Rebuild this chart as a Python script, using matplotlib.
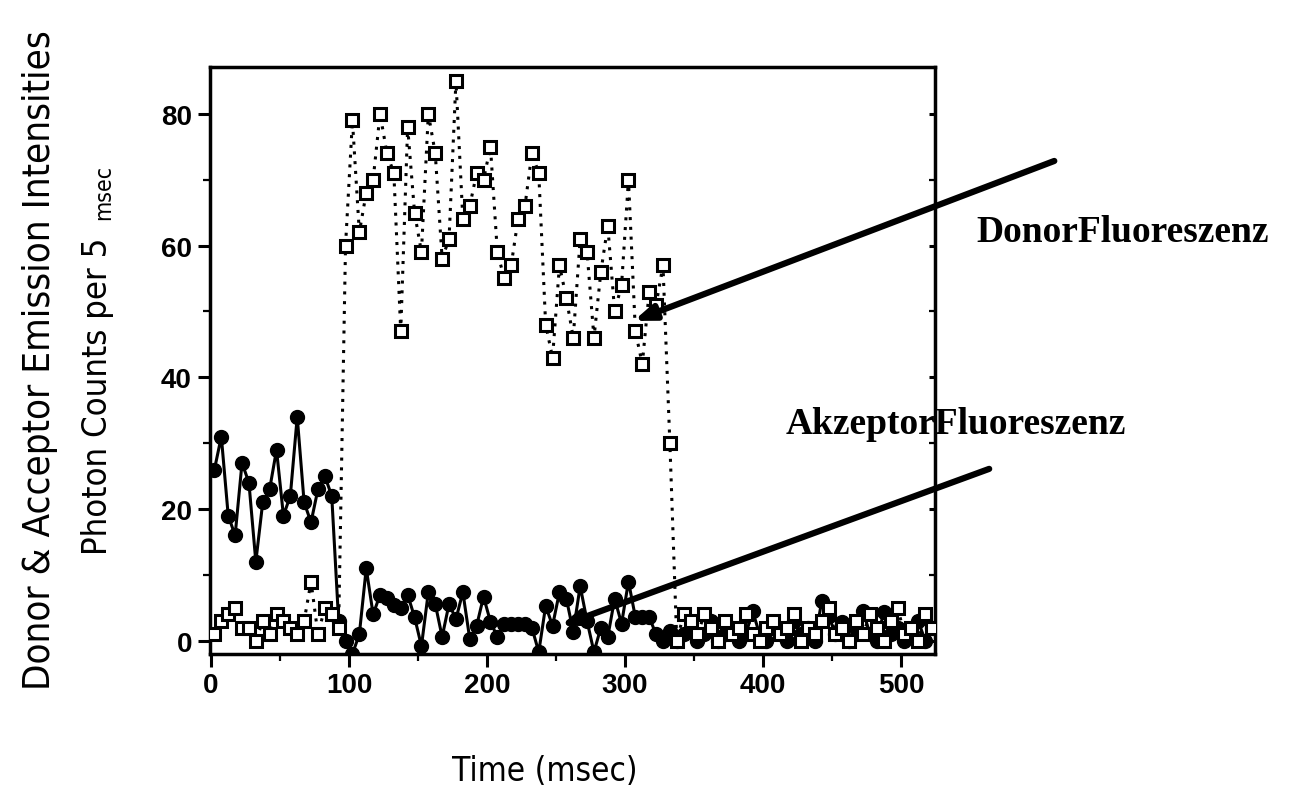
import numpy as np
import matplotlib
matplotlib.use("Agg")
import matplotlib.pyplot as plt
from matplotlib.ticker import MultipleLocator
from matplotlib import font_manager

# ---------------- data ----------------
bin_ms = 5
time_ms = np.arange(2.5, 525, bin_ms)          # 5-ms bins

donor_counts = [
    1, 3, 4, 5, 2, 2, 0, 3, 1, 4, 3, 2, 1, 3, 9, 1, 5, 4, 2,
    60, 79, 62, 68, 70, 80, 74, 71, 47, 78, 65, 59, 80, 74, 58, 61, 85,
    64, 66, 71, 70, 75, 59, 55, 57, 64, 66, 74, 71, 48, 43, 57, 52, 46, 61,
    59, 46, 56, 63, 50, 54, 70, 47, 42, 53, 51, 57, 30,
    0, 4, 3, 1, 4, 2, 0, 3, 1, 2, 4, 1, 0, 2, 3, 1, 2, 4, 0, 2,
    1, 3, 5, 1, 2, 0, 3, 1, 4, 2, 0, 3, 5, 1, 2, 0, 4, 2,
]

acceptor_counts = [
    26, 31, 19, 16, 27, 24, 12, 21, 23, 29, 19, 22, 34, 21, 18, 23, 25, 22, 3,
    0, -2, 1, 11, 4, 7, 6.5, 5.5, 5, 7, 3.6, -0.8, 7.4, 5.6, 0.6, 5.6, 3.3,
    7.4, 0.3, 2.3, 6.7, 2.9, 0.6, 2.5, 2.5, 2.5, 2.5, 2, -1.7, 5.3, 2.3,
    7.4, 6.4, 1.4, 8.3, 3, -1.7, 2, 0.6, 6.4, 2.6, 9, 3.6, 3.6, 3.6, 1, 0, 1.5,
    0, 1, 2, 0, 1, 3, 0, 1, 2, 0, 1, 4.5, 1, 0, 2, 1, 0, 3, 1, 2,
    0, 6, 3.8, 1, 2.9, 0, 2, 4.5, 1, 0, 4.4, 1, 2, 0, 1, 3, 0, 2,
]

x_ticks = [0, 100, 200, 300, 400, 500]
y_ticks = [0, 20, 40, 60, 80]

donor_label = "DonorFluoreszenz"
acceptor_label = "AkzeptorFluoreszenz"

# ---------------- fonts ----------------
fonts = font_manager.fontManager.ttflist
avail = {f.name for f in fonts}
has_dv_cond = any(f.name == "DejaVu Sans" and str(f.stretch) in ("condensed", "semi-condensed")
                  for f in fonts)
if "Liberation Sans Narrow" in avail:
    cond = dict(family="Liberation Sans Narrow")
    cond_scale = 1.0
elif has_dv_cond:
    cond = dict(family="DejaVu Sans", fontstretch="condensed")
    cond_scale = 0.92
else:
    cond = dict(family="Liberation Sans")
    cond_scale = 0.9
sans = "Liberation Sans"
serif = "Liberation Serif"

# ---------------- figure ----------------
W, H = 1290, 803
fig = plt.figure(figsize=(W / 100, H / 100), dpi=100)
ax = fig.add_axes([210 / W, 1 - 655 / H, (935 - 210) / W, (655 - 68) / H])

ax.plot(time_ms, donor_counts, linestyle=(0, (1, 2.2)), color="black", lw=2.2,
        marker="s", markersize=8.5, markerfacecolor="white", markeredgecolor="black",
        markeredgewidth=2.2, zorder=3)
ax.plot(time_ms, acceptor_counts, linestyle="-", color="black", lw=2.2,
        marker="o", markersize=10, markerfacecolor="black", markeredgecolor="black",
        zorder=2)

ax.set_xlim(-0.7, 524.6)
ax.set_ylim(-2.0, 87.1)
ax.set_xticks(x_ticks)
ax.set_yticks(y_ticks)
ax.xaxis.set_minor_locator(MultipleLocator(50))
ax.yaxis.set_minor_locator(MultipleLocator(10))
ax.tick_params(axis="both", which="major", direction="out", length=9, width=2.2,
               labelsize=20, pad=4)
ax.tick_params(axis="both", which="minor", direction="out", length=5, width=1.6)
ax.tick_params(axis="y", which="both", right=True, labelright=False)
for lab in ax.get_xticklabels() + ax.get_yticklabels():
    lab.set_fontfamily(sans)
    lab.set_fontweight("bold")
for sp in ax.spines.values():
    sp.set_linewidth(2.5)
# right-side ticks point inward and are short
for t in ax.yaxis.get_major_ticks() + ax.yaxis.get_minor_ticks():
    t.tick2line.set_marker(matplotlib.lines.TICKLEFT)
    t.tick2line.set_markersize(4)

# axis titles
fig.text(40 / W, 1 - 690 / H, "Donor & Acceptor Emission Intensities", rotation=90,
         rotation_mode="anchor", ha="left", va="center",
         fontsize=30 * cond_scale, **cond)
fig.text(97 / W, 1 - 555 / H, "Photon Counts per 5", rotation=90,
         rotation_mode="anchor", ha="left", va="center",
         fontsize=27 * cond_scale, **cond)
fig.text(104 / W, 1 - 220 / H, "msec", rotation=90,
         rotation_mode="anchor", ha="left", va="center",
         fontsize=18 * cond_scale, **cond)
fig.text(545 / W, 1 - 772 / H, "Time (msec)", ha="center", va="center",
         fontsize=26 * cond_scale, **cond)


def px2data(px, py):
    return ((px - 211) / 1.378, (642 - py) / 6.59)


# annotation arrows and labels
for tip, tail in [((633, 322), (1053, 162)), ((560, 627), (988, 470))]:
    ax.annotate("", xy=px2data(*tip), xytext=px2data(*tail),
                arrowprops=dict(arrowstyle="-|>,head_length=1.2,head_width=0.45",
                                lw=4.5, color="black", shrinkA=0, shrinkB=0),
                annotation_clip=False, zorder=5)

fig.text(1123 / W, 1 - 233 / H, donor_label, ha="center", va="center",
         fontsize=27, fontweight="bold", family=serif)
fig.text(956 / W, 1 - 425 / H, acceptor_label, ha="center", va="center",
         fontsize=27, fontweight="bold", family=serif)

fig.savefig("out.png", dpi=100, facecolor="white")
